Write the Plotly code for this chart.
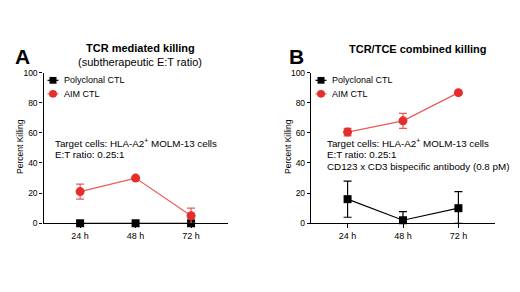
import plotly.graph_objects as go

categories = ["24 h", "48 h", "72 h"]

# Panel A: TCR mediated killing
a_poly = [0, 0, 0]
a_aim = [21, 30, 5]
a_aim_err = [5, 0.5, 5]

# Panel B: TCR/TCE combined killing
b_poly = [16, 2, 10]
b_poly_err = [12, 5.7, 11]
b_aim = [60.5, 68, 86.7]
b_aim_err = [2.5, 5, 0.5]

y_ticks = [0, 20, 40, 60, 80, 100]

RED = "#e52e2b"
RED_LINE = "#ea5a56"
FONT = "Arial, Liberation Sans, sans-serif"

def clip_minus(vals, errs):
    return [min(e, v) for v, e in zip(vals, errs)]

fig = go.Figure()

def add_panel(xa, ya, poly, poly_err, aim, aim_err):
    xs = [0, 1, 2]
    pe = dict(type="data", array=poly_err, arrayminus=clip_minus(poly, poly_err),
              visible=True, color="black", thickness=1.2, width=4) if poly_err else None
    fig.add_trace(go.Scatter(
        x=xs, y=poly, xaxis=xa, yaxis=ya, mode="lines+markers",
        line=dict(color="black", width=1.2),
        marker=dict(symbol="square", size=8, color="black"),
        error_y=pe, cliponaxis=False, showlegend=False))
    fig.add_trace(go.Scatter(
        x=xs, y=aim, xaxis=xa, yaxis=ya, mode="lines+markers",
        line=dict(color=RED_LINE, width=1.2),
        marker=dict(symbol="circle", size=9, color=RED),
        error_y=dict(type="data", array=aim_err, arrayminus=clip_minus(aim, aim_err),
                     visible=True, color=RED_LINE, thickness=1.2, width=4),
        cliponaxis=False, showlegend=False))

add_panel("x", "y", a_poly, None, a_aim, a_aim_err)
add_panel("x2", "y2", b_poly, b_poly_err, b_aim, b_aim_err)

W, H = 520, 292
ydom = [(H - 226) / H, (H - 70) / H]

xcommon = dict(range=[-0.66, 2.66], tickvals=[0, 1, 2], ticktext=categories,
               showline=True, linecolor="black", linewidth=1.4, ticks="outside",
               ticklen=4, tickcolor="black", tickwidth=1.2, showgrid=False,
               zeroline=False, tickfont=dict(size=9, color="black", family=FONT))
ycommon = dict(range=[0, 100], tickvals=y_ticks, domain=ydom,
               showline=True, linecolor="black", linewidth=1.4, ticks="outside",
               ticklen=3, tickcolor="black", tickwidth=1.2, showgrid=False,
               zeroline=False, tickfont=dict(size=8.5, color="black", family=FONT))

fig.update_layout(
    width=W, height=H, margin=dict(l=0, r=0, t=0, b=0),
    paper_bgcolor="white", plot_bgcolor="white",
    font=dict(family=FONT, color="black"),
    xaxis=dict(domain=[43.5 / W, 227.7 / W], anchor="y", **xcommon),
    yaxis=dict(anchor="x", **ycommon),
    xaxis2=dict(domain=[311 / W, 495 / W], anchor="y2", **xcommon),
    yaxis2=dict(anchor="x2", **ycommon),
)

def px(x, y, text, size=10, xanchor="left", yanchor="middle", **kw):
    fig.add_annotation(x=x / W, y=1 - y / H, xref="paper", yref="paper",
                       text=text, showarrow=False, xanchor=xanchor, yanchor=yanchor,
                       font=dict(size=size, color="black", family=FONT), **kw)

# Panel letters and titles
px(22, 53, "<b>A</b>", size=21, xanchor="center", borderpad=0)
px(296, 53, "<b>B</b>", size=21, xanchor="center", borderpad=0)
px(140, 45, "<b>TCR mediated killing</b>", size=11, xanchor="center")
px(140, 59, "(subtherapeutic E:T ratio)", size=11, xanchor="center")
px(418, 46, "<b>TCR/TCE combined killing</b>", size=11, xanchor="center")

# Y titles
px(20, 147, "Percent Killing", size=8.5, xanchor="center", textangle=-90)
px(288, 147, "Percent Killing", size=8.5, xanchor="center", textangle=-90)

# Legends
for lx, tx in [(53, 62), (321, 330)]:
    fig.add_shape(type="rect", xref="paper", yref="paper",
                  x0=(lx - 3.5) / W, x1=(lx + 3.5) / W,
                  y0=1 - (78 + 3.5) / H, y1=1 - (78 - 3.5) / H,
                  fillcolor="black", line=dict(width=0))
    fig.add_shape(type="line", xref="paper", yref="paper",
                  x0=(lx - 5.5) / W, x1=(lx + 5.5) / W, y0=1 - 78 / H, y1=1 - 78 / H,
                  line=dict(color="black", width=1.2))
    fig.add_shape(type="line", xref="paper", yref="paper",
                  x0=(lx - 5.5) / W, x1=(lx + 5.5) / W, y0=1 - 92 / H, y1=1 - 92 / H,
                  line=dict(color=RED_LINE, width=1.2))
    fig.add_shape(type="circle", xref="paper", yref="paper",
                  x0=(lx - 4) / W, x1=(lx + 4) / W,
                  y0=1 - (92 + 4) / H, y1=1 - (92 - 4) / H,
                  fillcolor=RED, line=dict(width=0))
    px(tx, 78, "Polyclonal CTL", size=9)
    px(tx, 92, "AIM CTL", size=9)

# Condition notes
px(53, 143, "Target cells: HLA-A2<sup>+</sup> MOLM-13 cells", size=9.8)
px(53, 155, "E:T ratio: 0.25:1", size=9.8)
px(325, 143, "Target cells: HLA-A2<sup>+</sup> MOLM-13 cells", size=9.8)
px(325, 155, "E:T ratio: 0.25:1", size=9.8)
px(325, 167, "CD123 x CD3 bispecific antibody (0.8 pM)", size=9.8)

fig.write_html("out.html", config={"displayModeBar": False},
               post_script="document.body.style.margin='0';document.body.style.padding='0';")
